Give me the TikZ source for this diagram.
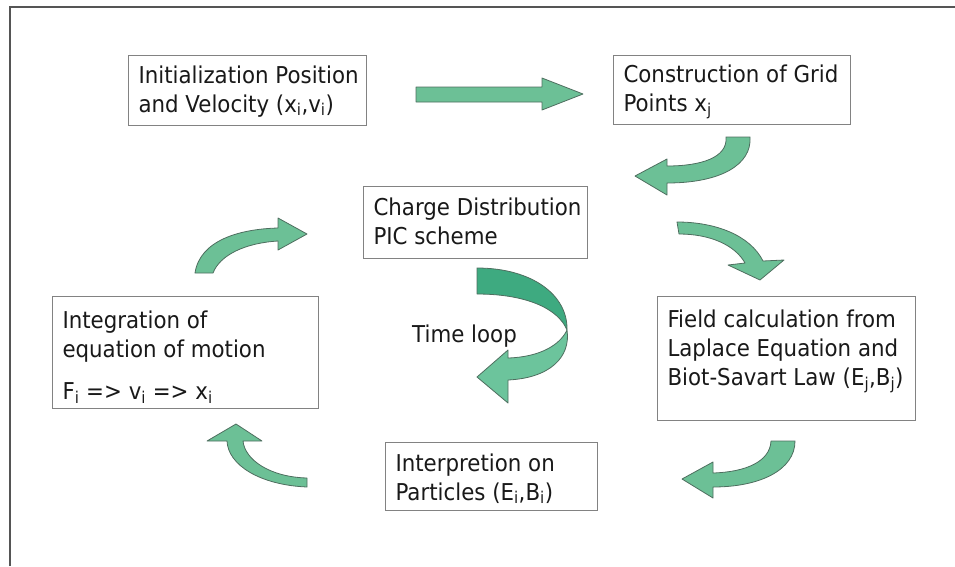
\documentclass[tikz,border=0pt]{standalone}
\usepackage{fontspec}
\setmainfont{DejaVu Sans}[FakeStretch=0.92]
\definecolor{arrowfill}{RGB}{108,192,150}
\definecolor{arrowline}{RGB}{78,110,95}
\definecolor{loopdark}{RGB}{62,170,128}
\definecolor{looplight}{RGB}{108,196,156}
\definecolor{boxline}{RGB}{130,130,130}
\definecolor{frameline}{RGB}{85,85,85}
\definecolor{ink}{RGB}{25,25,25}
\newcommand\boxlines[2]{\makebox[#1pt][l]{\begin{tabular}{@{}l@{}}#2\end{tabular}}}
\newcommand\ix[1]{\textsubscript{#1}}
\tikzset{
  box/.style={draw=boxline, line width=1pt, inner sep=0pt, fill=white, text=ink},
  fatarrow/.style={fill=arrowfill, draw=arrowline, line width=0.8pt, line join=round},
  frame/.style={draw=frameline, line width=2pt},
}
\begin{document}
\begin{tikzpicture}[x=1pt,y=-1pt]
\useasboundingbox (0,0) rectangle (955,566);
\fontsize{23.2}{28.8}\selectfont
% slide frame (top and left edges)
\draw[frame] (9.5,566) -- (9.5,6.5) -- (955,6.5);

% process boxes
\node[box, minimum width=238pt, minimum height=70pt] (init) at (247,90)
  {\boxlines{217}{Initialization Position\\and Velocity (x\ix{i},v\ix{i})\\[-4pt]}};
\node[box, minimum width=237pt, minimum height=69pt] (grid) at (731.5,89.5)
  {\boxlines{216}{\rule{0pt}{24pt}Construction of Grid\\Points x\ix{j}}};
\node[box, minimum width=224pt, minimum height=72pt] (charge) at (475,222)
  {\boxlines{203}{Charge Distribution\\PIC scheme\\[-4pt]}};
\node[box, minimum width=266pt, minimum height=111pt] (integ) at (185,352.5)
  {\boxlines{245}{\rule{0pt}{32pt}Integration of\\equation of motion\\[13pt]F\ix{i} => v\ix{i} => x\ix{i}}};
\node[box, minimum width=258pt, minimum height=124pt] (field) at (786,358)
  {\boxlines{237}{Field calculation from\\Laplace Equation and\\Biot-Savart Law (E\ix{j},B\ix{j})\\[14pt]}};
\node[box, minimum width=212pt, minimum height=68pt] (interp) at (491,476)
  {\boxlines{191}{\rule{0pt}{28pt}Interpretion on\\Particles (E\ix{i},B\ix{i})}};

% straight block arrow: initialization -> grid
\draw[fatarrow] (416,87) -- (542,87) -- (542,78) -- (583,94) -- (542,110)
  -- (542,102) -- (416,102) -- cycle;

% curved block arrow: grid -> charge distribution
\draw[fatarrow] (750,137) .. controls (752,165) and (720,183) .. (667,183)
  -- (667,195) -- (635,176) -- (667,159) -- (667,166)
  .. controls (700,166) and (728,158) .. (726,137) -- cycle;

% curved block arrow: charge distribution -> field calculation
\draw[fatarrow] (677,222) .. controls (715,222) and (750,235) .. (763,261)
  -- (784,260) -- (760,280) -- (728,265) -- (745,263)
  .. controls (735,245) and (710,234) .. (679,234) -- cycle;

% curved block arrow: field calculation -> interpretation
\draw[fatarrow] (795,441) .. controls (795,470) and (760,487) .. (713,487)
  -- (713,498) -- (682,479) -- (713,462) -- (713,473)
  .. controls (745,472) and (770,462) .. (771,441) -- cycle;

% curved block arrow: interpretation -> integration
\draw[fatarrow] (307,487) .. controls (260,485) and (228,465) .. (227,441)
  -- (207,441) -- (236,424) -- (262,441) -- (243,441)
  .. controls (245,460) and (270,477) .. (307,478) -- cycle;

% curved block arrow: integration -> charge distribution
\draw[fatarrow] (195,273) .. controls (200,240) and (240,229) .. (278,228)
  -- (278,218) -- (307,234) -- (278,250) -- (278,241)
  .. controls (245,243) and (220,255) .. (213,273) -- cycle;

% twisted time-loop arrow: back face, then front face with head
\draw[fill=loopdark, draw=arrowline, line width=0.8pt, line join=round]
  (477,268) .. controls (532,268) and (568,295) .. (567,330)
  .. controls (558,308) and (525,294) .. (477,294) -- cycle;
\draw[fill=looplight, draw=arrowline, line width=0.8pt, line join=round]
  (567,330) .. controls (571,357) and (550,378) .. (508,380)
  -- (508,403) -- (477,377) -- (508,350) -- (508,358)
  .. controls (540,357) and (560,345) .. (567,330) -- cycle;
\node[inner sep=0pt, anchor=west, text=ink] (loop) at (412,336) {Time loop};
\end{tikzpicture}
\end{document}
